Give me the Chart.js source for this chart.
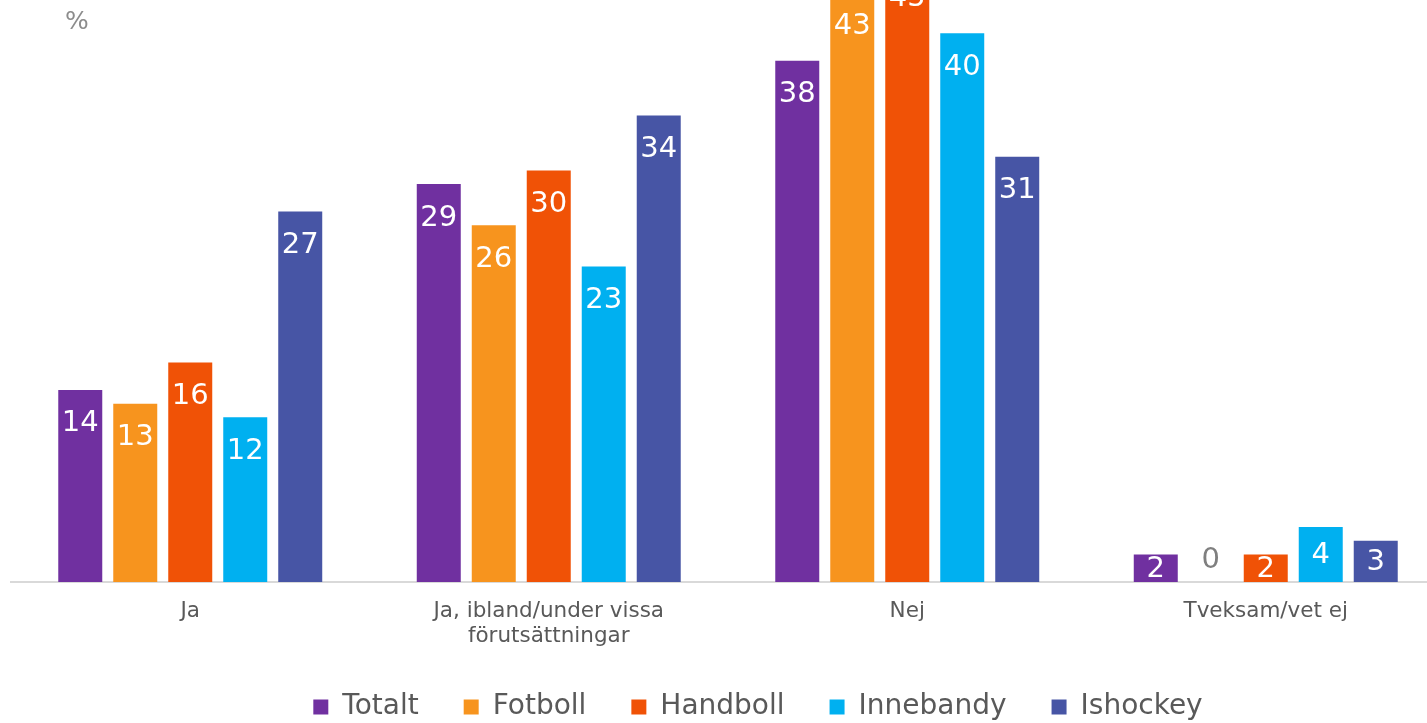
<!DOCTYPE html>
<html lang="sv">
<head>
<meta charset="utf-8">
<title>Andel per idrott</title>
<script src="https://cdn.jsdelivr.net/npm/chart.js@4/dist/chart.umd.min.js"></script>
<style>
    html, body { margin: 0; padding: 0; background: #fff; overflow: hidden; }
    body { width: 1427px; height: 723px; position: relative; }
    #wrap { position: absolute; left: 0; top: -120px; width: 1520px; height: 861px; }
    #unit {
        position: absolute; left: 65px; top: 6px;
        font: 25px "DejaVu Sans", sans-serif; color: #8c8c8c;
    }
</style>
</head>
<body>
<div id="wrap"><canvas id="chart"></canvas></div>
<div id="unit">%</div>

<script>
// ═══════════════════════════════════════════
// Datos
// ═══════════════════════════════════════════
const categories = ['Ja', ['Ja, ibland/under vissa', 'förutsättningar'], 'Nej', 'Tveksam/vet ej'];
const seriesNames = ['Totalt', 'Fotboll', 'Handboll', 'Innebandy', 'Ishockey'];
const totalt    = [14, 29, 38, 2];
const fotboll   = [13, 26, 43, 0];
const handboll  = [16, 30, 45, 2];
const innebandy = [12, 23, 40, 4];
const ishockey  = [27, 34, 31, 3];
const colors = ['#7030A0', '#F7941E', '#F05206', '#00B0F0', '#4755A5'];

const seriesValues = [totalt, fotboll, handboll, innebandy, ishockey];

// Etiquetas de valor dentro de las barras
const barLabels = {
    id: 'barLabels',
    afterDatasetsDraw(chart) {
        const ctx = chart.ctx;
        ctx.save();
        ctx.font = '29px "DejaVu Sans", sans-serif';
        ctx.textAlign = 'center';
        ctx.textBaseline = 'middle';
        chart.data.datasets.forEach((ds, i) => {
            const meta = chart.getDatasetMeta(i);
            meta.data.forEach((bar, j) => {
                const v = ds.data[j];
                let y;
                if (v === 0) {
                    ctx.fillStyle = '#7f7f7f';
                    y = bar.base - 22;
                } else {
                    ctx.fillStyle = '#ffffff';
                    // barras cortas: la etiqueta baja hacia el centro
                    y = Math.min(bar.y + 34, (bar.y + bar.base) / 2 + 1);
                }
                ctx.fillText(String(v), bar.x, y);
            });
        });
        ctx.restore();
    }
};

new Chart(document.getElementById('chart'), {
    type: 'bar',
    data: {
        labels: categories,
        datasets: seriesNames.map((name, i) => ({
            label: name,
            data: seriesValues[i],
            backgroundColor: colors[i],
            borderWidth: 0,
            barPercentage: 0.8,
            categoryPercentage: 0.767
        }))
    },
    options: {
        responsive: true,
        maintainAspectRatio: false,
        animation: false,
        layout: { padding: { left: 11, right: 15, top: 16, bottom: 10 } },
        plugins: {
            tooltip: { enabled: false },
            legend: {
                position: 'bottom',
                labels: {
                    boxWidth: 15,
                    boxHeight: 15,
                    padding: 45,
                    color: '#595959',
                    font: { family: '"DejaVu Sans", sans-serif', size: 28 }
                }
            }
        },
        scales: {
            x: {
                grid: { display: false },
                border: { display: true, color: '#d9d9d9', width: 2 },
                ticks: {
                    color: '#595959',
                    padding: 9,
                    maxRotation: 0,
                    font: { family: '"DejaVu Sans", sans-serif', size: 21.5, lineHeight: 1.17 }
                },
                afterFit(scale) { scale.height = 66; }
            },
            y: {
                position: 'right',
                min: 0,
                max: 50,
                grid: { display: false },
                border: { display: false },
                ticks: { display: false },
                // espacio vacío a la derecha para centrar la leyenda como en el original
                afterFit(scale) { scale.width = 60; }
            }
        }
    },
    plugins: [barLabels]
});
</script>
</body>
</html>
